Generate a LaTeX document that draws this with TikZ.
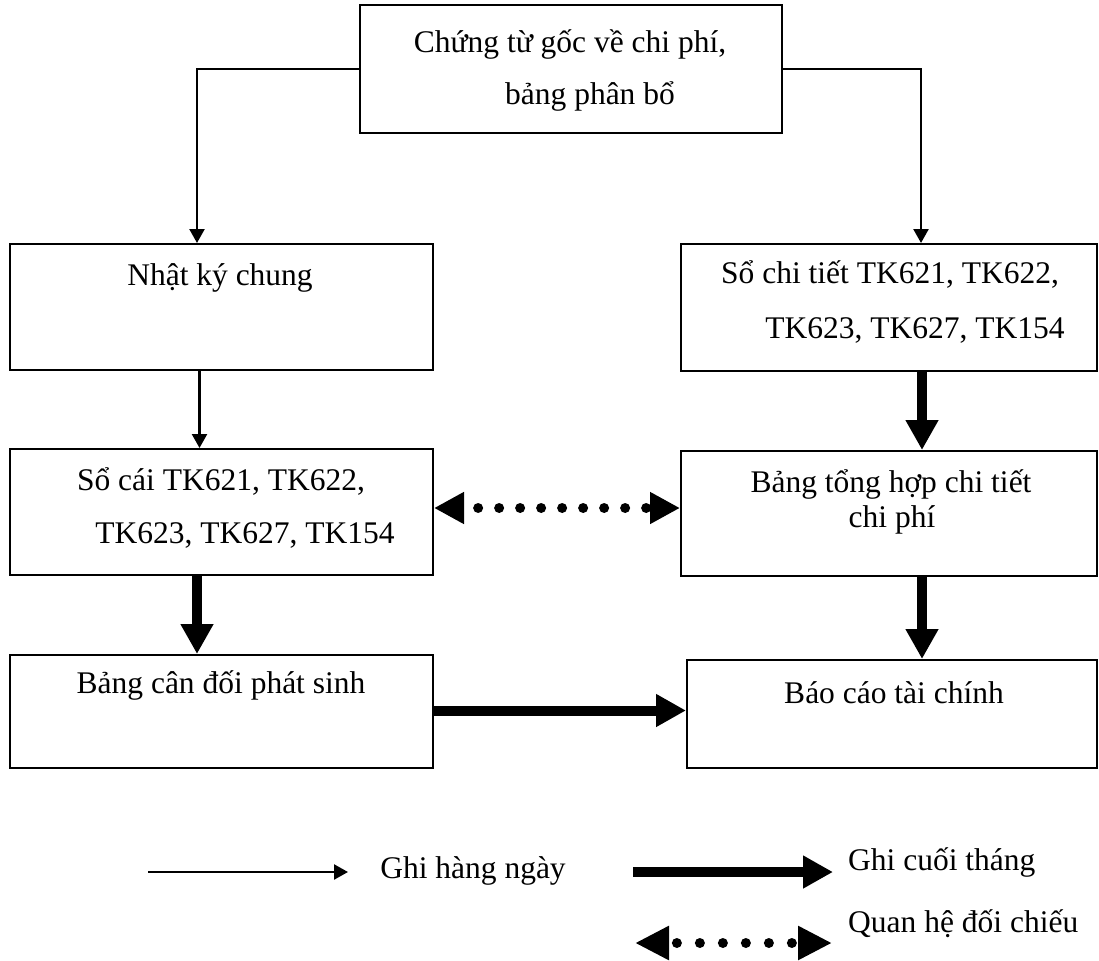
\documentclass[tikz,border=0pt]{standalone}
\usepackage{fontspec}
\setmainfont{Liberation Serif}
\usetikzlibrary{arrows.meta}

\begin{document}
\begin{tikzpicture}[x=1pt,y=-1pt,
  box/.style={draw, line width=2pt, rectangle, inner sep=0pt},
  txt/.style={inner sep=0pt, anchor=base, font=\fontsize{31.5}{36}\selectfont},
  daily/.style={line width=2.4pt, -{Triangle[width=15pt,length=14pt]}},
  monthly/.style={line width=10pt, -{Triangle[width=31pt,length=30pt]}},
  crosscheck/.style={line width=10pt, line cap=round, dash pattern=on 0pt off 21pt, dash phase=5pt,
    {Triangle[width=30pt,length=30pt]}-{Triangle[width=30pt,length=30pt]}},
  crosscheckkey/.style={line width=10pt, line cap=round, dash pattern=on 0pt off 23pt, dash phase=13pt,
    {Triangle[width=32pt,length=34pt]}-{Triangle[width=32pt,length=34pt]}}
]
\useasboundingbox (0,0) rectangle (1099,960);

% boxes
\node[box, minimum width=422pt, minimum height=128pt] (ct)   at (571,69)    {};
\node[box, minimum width=423pt, minimum height=126pt] (nkc)  at (221.5,307) {};
\node[box, minimum width=416pt, minimum height=127pt] (sct)  at (889,307.5) {};
\node[box, minimum width=423pt, minimum height=126pt] (sc)   at (221.5,512) {};
\node[box, minimum width=416pt, minimum height=125pt] (bth)  at (889,513.5) {};
\node[box, minimum width=423pt, minimum height=113pt] (bcd)  at (221.5,711.5) {};
\node[box, minimum width=410pt, minimum height=108pt] (bctc) at (892,714)   {};

% box texts
\node[txt] (ct1)  at (570,53)  {Chứng từ gốc về chi phí,};
\node[txt] (ct2)  at (590,105) {bảng phân bổ};
\node[txt] (nkc1) at (220,285) {Nhật ký chung};
\node[txt] (sct1) at (890,283) {Sổ chi tiết TK621, TK622,};
\node[txt] (sct2) at (915,338) {TK623, TK627, TK154};
\node[txt] (sc1)  at (221,490) {Sổ cái TK621, TK622,};
\node[txt] (sc2)  at (245,543) {TK623, TK627, TK154};
\node[txt] (bth1) at (891,492) {Bảng tổng hợp chi tiết};
\node[txt] (bth2) at (892,527) {chi phí};
\node[txt] (bcd1) at (221,693) {Bảng cân đối phát sinh};
\node[txt] (bctc1) at (894,703) {Báo cáo tài chính};

% connectors
\draw[daily] (ct.west) -| ([xshift=-24.5pt]nkc.north);
\draw[daily] (ct.east) -| ([xshift=32pt]sct.north);
\draw[daily] ([xshift=-22pt]nkc.south) -- ([xshift=-22pt]sc.north);
\draw[monthly] ([xshift=33pt]sct.south) -- ([xshift=33pt]bth.north);
\draw[monthly] ([xshift=-24.5pt]sc.south) -- ([xshift=-24.5pt]bcd.north);
\draw[monthly] ([xshift=33pt]bth.south) -- ([xshift=30pt]bctc.north);
\draw[monthly] ([yshift=1pt]bcd.east) -- ([yshift=1pt]bcd.east -| bctc.west);
\draw[crosscheck] ([yshift=4pt]sc.east) -- ([yshift=4pt]sc.east -| bth.west);

% legend
\coordinate (d1) at (148,872);
\coordinate (d2) at (348,872);
\coordinate (m1) at (633,872);
\coordinate (m2) at (833,872);
\coordinate (q1) at (635,943);
\coordinate (q2) at (832,943);
\draw[daily] (d1) -- (d2);
\draw[monthly] (m1) -- (m2);
\draw[crosscheckkey] (q1) -- (q2);
\node[txt] (k1) at (473,878) {Ghi hàng ngày};
\node[txt, anchor=base west] (k2) at (848,870) {Ghi cuối tháng};
\node[txt, anchor=base west] (k3) at (848,932) {Quan hệ đối chiếu};
\end{tikzpicture}
\end{document}
